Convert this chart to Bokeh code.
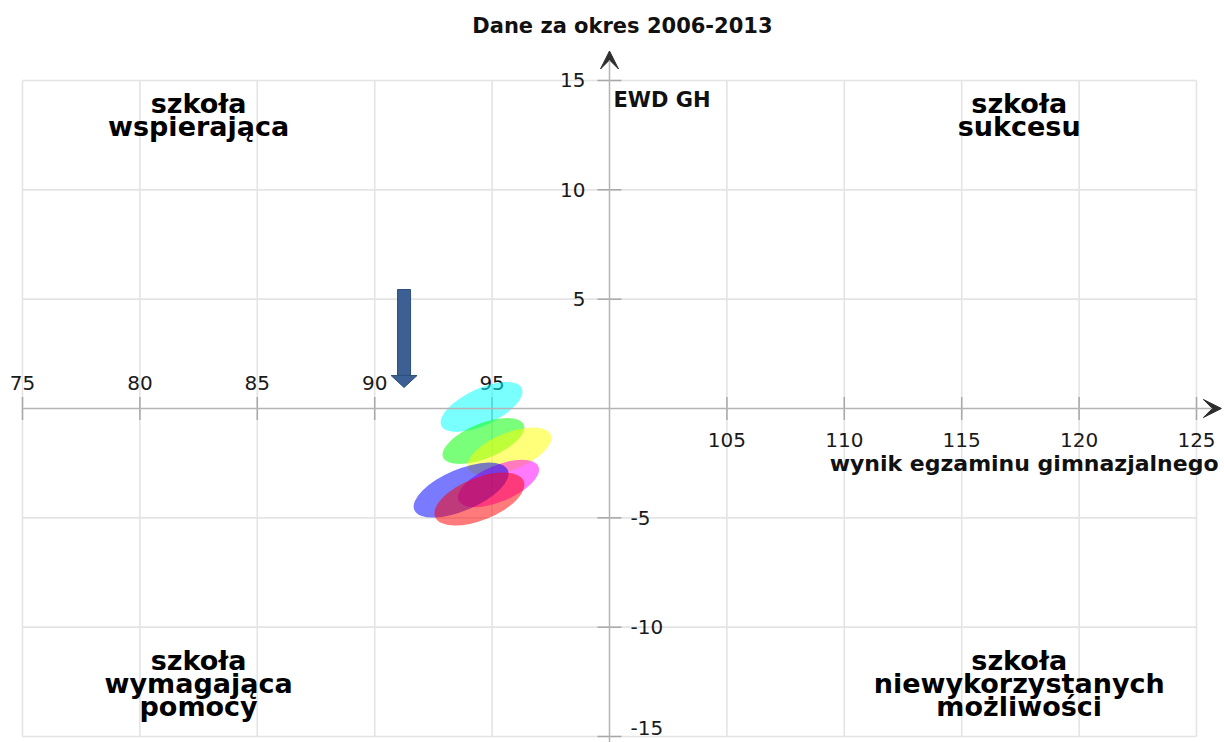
from bokeh.plotting import figure
from bokeh.models import Range1d, Arrow, VeeHead, ColumnDataSource
from bokeh.core.properties import value
from bokeh.embed import file_html
from bokeh.resources import INLINE

# ---------------- data ----------------
ellipse_colors = ["#00FFFF", "#00FF00", "#FFFF00", "#FF00FF", "#0000FF", "#FF0000"]
ellipse_x = [94.55, 94.63, 95.74, 95.27, 93.68, 94.46]
ellipse_y = [0.07, -1.49, -1.97, -3.43, -3.73, -4.14]
ellipse_w = [3.78, 3.71, 3.80, 3.70, 4.33, 4.07]
ellipse_h = [1.66, 1.60, 1.70, 1.65, 1.89, 1.93]
ellipse_angle = [25, 22, 22, 23, 23, 22]

grid_x = [75, 80, 85, 90, 95, 100, 105, 110, 115, 120, 125]
grid_y = [-15, -10, -5, 0, 5, 10, 15]
x_ticks_left = [75, 80, 85, 90, 95]
x_ticks_right = [105, 110, 115, 120, 125]
y_ticks_pos = [5, 10, 15]
y_ticks_neg = [-5, -10, -15]

title_text = "Dane za okres 2006-2013"
y_axis_name = "EWD GH"
x_axis_name = "wynik egzaminu gimnazjalnego"
quad_labels = [["szkoła", "wspierająca"], ["szkoła", "sukcesu"],
               ["szkoła", "wymagająca", "pomocy"],
               ["szkoła", "niewykorzystanych", "możliwości"]]
quad_x = [82.5, 117.45, 82.5, 117.45]
quad_y = [13.40, 13.40, -12.58, -12.58]

marker_x = 91.25        # blue pointer arrow
marker_from = 5.44
marker_to = 0.96

X0, X1 = 75, 125
Y0, Y1 = -15, 15
CX, CY = 100, 0

FONT = value("DejaVu Sans")

p = figure(width=1224, height=742,
           x_range=Range1d(74.0630, 126.1925), y_range=Range1d(-15.274, 18.658),
           x_axis_type=None, y_axis_type=None,
           min_border=0, toolbar_location=None, output_backend="svg")
p.outline_line_color = None
p.background_fill_color = "white"

# grid lines (limited to data area)
gx = [v for v in grid_x if v != CX]
gy = [v for v in grid_y if v != CY]
p.segment(x0=gx, y0=[Y0] * len(gx), x1=gx, y1=[Y1] * len(gx),
          line_color="#E4E4E4", line_width=1.6)
p.segment(x0=[X0] * len(gy), y0=gy, x1=[X1] * len(gy), y1=gy,
          line_color="#E4E4E4", line_width=1.6)

# central axes with arrow heads
p.add_layout(Arrow(end=VeeHead(size=18, fill_color="#2E2E2E", line_color="#2E2E2E"),
                   x_start=X0, y_start=CY, x_end=126.06, y_end=CY,
                   line_color="#B4B4B4", line_width=1.5))
p.add_layout(Arrow(end=VeeHead(size=18, fill_color="#2E2E2E", line_color="#2E2E2E"),
                   x_start=CX, y_start=-15.3, x_end=CX, y_end=16.35,
                   line_color="#B4B4B4", line_width=1.5))

# tick marks
xt = x_ticks_left + x_ticks_right
p.scatter(x=xt, y=[CY] * len(xt), marker="dash", size=23, angle=1.5708,
          line_color="#A8A8A8", line_width=1.5)
yt = y_ticks_pos + y_ticks_neg
p.scatter(x=[CX] * len(yt), y=yt, marker="dash", size=24,
          line_color="#A8A8A8", line_width=1.5)

# tick labels
tick_style = dict(text_font=FONT, text_font_size="20px", text_color="#1A1A1A")
p.text(x=x_ticks_left, y=[CY] * 5, text=[str(v) for v in x_ticks_left],
       text_align="center", text_baseline="middle", y_offset=-25, **tick_style)
p.text(x=x_ticks_right, y=[CY] * 5, text=[str(v) for v in x_ticks_right],
       text_align="center", text_baseline="middle", y_offset=32, **tick_style)
p.text(x=[CX] * 3, y=y_ticks_pos, text=[str(v) for v in y_ticks_pos],
       text_align="right", text_baseline="middle", x_offset=-24, **tick_style)
p.text(x=[CX] * 3, y=y_ticks_neg, text=[str(v) for v in y_ticks_neg],
       text_align="left", text_baseline="middle", x_offset=21,
       y_offset=[0, 0, -9], **tick_style)

# ellipses
src = ColumnDataSource(dict(x=ellipse_x, y=ellipse_y, w=ellipse_w, h=ellipse_h,
                            a=ellipse_angle, c=ellipse_colors))
p.ellipse(x="x", y="y", width="w", height="h", angle="a", angle_units="deg",
          fill_color="c", fill_alpha=0.52, line_color=None, source=src)

# texts
p.text(x=[100.55], y=[17.51], text=[title_text], text_align="center",
       text_baseline="middle", text_font=FONT, text_font_size="21px",
       text_font_style="bold", text_color="#111111")
p.text(x=[CX], y=[Y1], text=[y_axis_name], text_align="left",
       text_baseline="middle", x_offset=4, y_offset=20, text_font=FONT,
       text_font_size="21px", text_font_style="bold", text_color="#111111")
p.text(x=[X1], y=[CY], text=[x_axis_name], text_align="right",
       text_baseline="middle", x_offset=22, y_offset=55, text_font=FONT,
       text_font_size="22px", text_font_style="bold", text_color="#111111")

LINE_STEP = 23
qx, qy, qt, qo = [], [], [], []
for lines, x, y in zip(quad_labels, quad_x, quad_y):
    n = len(lines)
    for i, t in enumerate(lines):
        qx.append(x)
        qy.append(y)
        qt.append(t)
        qo.append((i - (n - 1) / 2) * LINE_STEP)
p.text(x=qx, y=qy, text=qt, y_offset=qo, text_align="center",
       text_baseline="middle", text_font=FONT, text_font_size="27px",
       text_font_style="bold", text_color="#000000")

# blue pointer arrow
shaft_half = 0.277
head_half = 0.554
head_len = 0.55
head_base = marker_to + head_len
p.quad(left=[marker_x - shaft_half], right=[marker_x + shaft_half],
       bottom=[head_base], top=[marker_from],
       fill_color="#3D6094", line_color="#2E4E7C", line_width=1)
p.patch(x=[marker_x - head_half, marker_x + head_half, marker_x],
        y=[head_base, head_base, marker_to],
        fill_color="#3D6094", line_color="#2E4E7C", line_width=1)

open("out.html", "w").write(file_html(p, INLINE))
